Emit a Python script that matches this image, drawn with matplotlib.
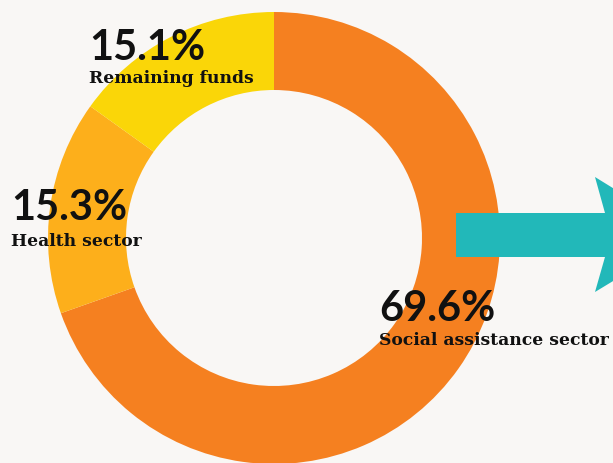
import matplotlib
matplotlib.use("Agg")
import matplotlib.pyplot as plt
from matplotlib.patches import Polygon

# Data
categories = ["Social assistance sector", "Health sector", "Remaining funds"]
values = [69.6, 15.3, 15.1]
pct_labels = ["69.6%", "15.3%", "15.1%"]
colors = ["#f58020", "#fdaf1b", "#fad608"]

BG = "#f9f7f5"
W, H = 613, 464

fig = plt.figure(figsize=(W / 100, H / 100), dpi=100, facecolor=BG)
ax = fig.add_axes([0, 0, 1, 1])
ax.set_facecolor(BG)
ax.set_xlim(0, W)
ax.set_ylim(0, H)
ax.set_aspect("equal")
ax.axis("off")

def Y(py):
    return H - py

cx, cy, R, inner = 274, Y(239), 226, 148
ax.pie(values, colors=colors, startangle=90, counterclock=False,
       center=(cx, cy), radius=R,
       wedgeprops=dict(width=R - inner, linewidth=0))
ax.set_xlim(0, W)
ax.set_ylim(0, H)

# Teal arrow
arrow_pts = [(456, 214), (605, 214), (595, 178), (689, 236),
             (595, 293), (605, 258), (456, 258)]
ax.add_patch(Polygon([(x, Y(y)) for x, y in arrow_pts], closed=True,
                     facecolor="#22b8b9", edgecolor="none", zorder=3))

# Labels: (pct position x, baseline y, name baseline y)
label_pos = [(379, 321, 345), (11, 220, 246), (89, 60, 83)]
for (x, yb, yn), pct, name in zip(label_pos, pct_labels, categories):
    ax.text(x, Y(yb), pct, fontsize=30, fontweight="bold", family="Lato",
            color="#111111", ha="left", va="baseline", zorder=5)
    ax.text(x, Y(yn), name, fontsize=12.3, fontweight="bold",
            family="DejaVu Serif", color="#111111", ha="left",
            va="baseline", zorder=5)

fig.savefig("out.png", dpi=100, facecolor=BG)
